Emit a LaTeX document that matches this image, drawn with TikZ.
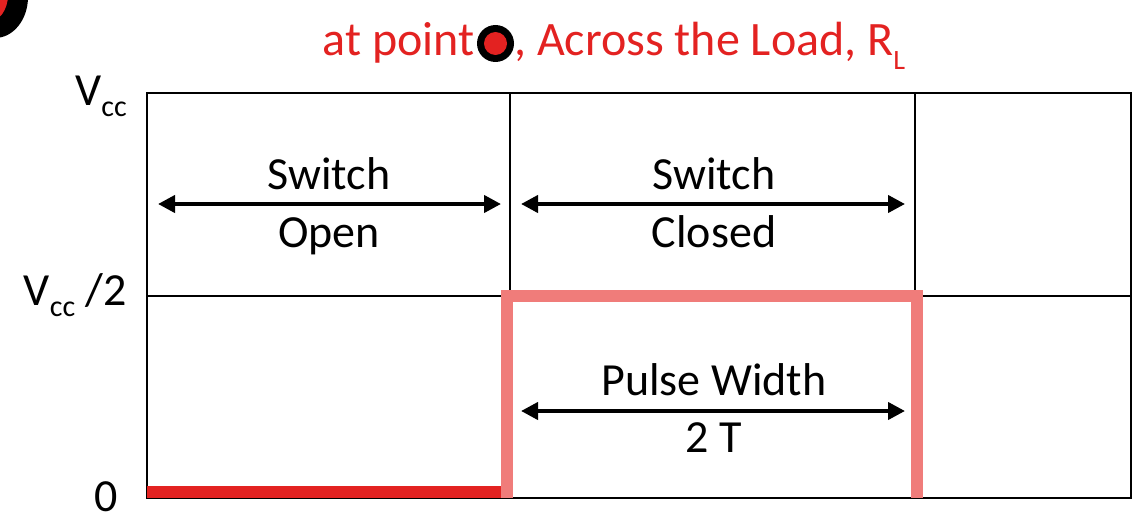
\documentclass[tikz,border=0pt]{standalone}
\usepackage{fontspec}
\setmainfont{Carlito}
\usetikzlibrary{arrows.meta}
\definecolor{tred}{HTML}{E32221}
\definecolor{pulsepink}{HTML}{F07C7A}
\newcommand{\subtx}[1]{\raisebox{-11pt}{\fontsize{30}{30}\selectfont #1}}
\begin{document}
\begin{tikzpicture}[x=1pt,y=-1pt,
  txt/.style={font=\fontsize{46}{50}\selectfont, inner sep=0pt, anchor=base},
  ttl/.style={font=\fontsize{48}{52}\selectfont, inner sep=0pt, text=tred},
  gridline/.style={line width=2pt, black},
  dimarrow/.style={line width=4pt, {Triangle[length=17pt,width=17pt]}-{Triangle[length=17pt,width=17pt]}},
]
\useasboundingbox (0,0) rectangle (1140,519);
% corner marker (cut off)
\fill[black] (-5,-3) ellipse [x radius=33, y radius=41];
\fill[tred] (-12,-5) ellipse [x radius=20, y radius=27];
% title
\node[circle, fill=black, minimum size=37pt, inner sep=0pt] (mk) at (495.5,43.5) {};
\node[circle, fill=tred, minimum size=23pt, inner sep=0pt] (mkin) at (mk.center) {};
\node[ttl, anchor=base east] (t1) at (475,56) {at point};
\node[ttl, anchor=base west] (t2) at (514,56) {, Across the Load, R\raisebox{-14pt}{\fontsize{28}{28}\selectfont L}};
% grid
\coordinate (tl) at (147,93);
\coordinate (br) at (1131,498);
\draw[gridline] (tl) rectangle (br);
\draw[gridline] (510,93) -- (510,498);
\draw[gridline] (915,93) -- (915,498);
\draw[gridline] (147,296) -- (1131,296);
% axis labels
\node[txt, anchor=base east] (lvcc) at (127,105) {V\subtx{cc}};
\node[txt, anchor=base east] (lvhalf) at (127,305) {V\subtx{cc} /2};
\node[txt, anchor=base east] (lzero) at (118,511) {0};
% waveform
\draw[tred, line width=12pt] (147,492) -- (507,492);
\draw[pulsepink, line width=12pt, line join=miter] (506.5,498) -- (506.5,296) -- (916.5,296) -- (916.5,498);
% annotations
\node[txt] (sw1) at (329,189) {Switch};
\node[txt] (op) at (329,247) {Open};
\coordinate (a1l) at (158,204);
\coordinate (a1r) at (501,204);
\draw[dimarrow] (a1l) -- (a1r);
\node[txt] (sw2) at (714,189) {Switch};
\node[txt] (cl) at (714,247) {Closed};
\coordinate (a2l) at (521,204);
\coordinate (a2r) at (905,204);
\draw[dimarrow] (a2l) -- (a2r);
\node[txt] (pw) at (714,395) {Pulse Width};
\node[txt] (tt) at (714,452) {2 T};
\coordinate (a3l) at (521,411);
\coordinate (a3r) at (905,411);
\draw[dimarrow] (a3l) -- (a3r);
\end{tikzpicture}
\end{document}
